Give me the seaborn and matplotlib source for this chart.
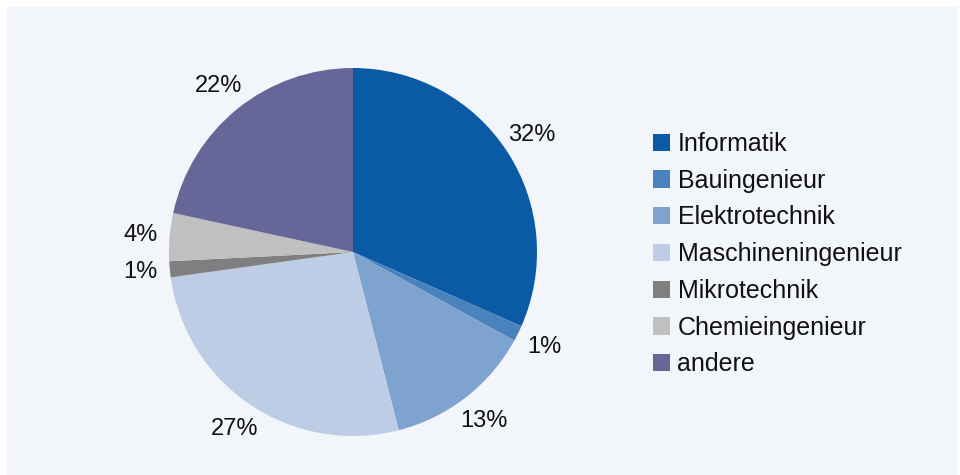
import matplotlib
matplotlib.use("Agg")
import matplotlib.pyplot as plt
import matplotlib.patches as mpatches
import seaborn as sns

# data
faecher = ["Informatik", "Bauingenieur", "Elektrotechnik", "Maschineningenieur",
           "Mikrotechnik", "Chemieingenieur", "andere"]
anteile = [31.6, 1.4, 13.0, 26.8, 1.4, 4.2, 21.6]
farben = ["#0a5aa5", "#4a82be", "#7fa3cf", "#bccde5", "#7f7f7f", "#c0c0c0", "#666699"]

sns.set_style("white")
plt.rcParams["font.family"] = ["Liberation Sans", "DejaVu Sans"]

W, H = 960, 475
fig = plt.figure(figsize=(W / 100, H / 100), dpi=100)
fig.patch.set_facecolor("white")

# light panel behind everything
panel = mpatches.Rectangle((7 / W, 0), (W - 9) / W, (H - 7) / H,
                           transform=fig.transFigure, facecolor="#f2f5fa",
                           edgecolor="none", zorder=-10)
fig.patches.append(panel)

# pie: centre (353, 252), radius 184 px
cx, cy, r = 353, 252, 184
ax = fig.add_axes([(cx - r) / W, (H - cy - r) / H, 2 * r / W, 2 * r / H])
ax.set_zorder(2)
ax.set_facecolor("none")

wedges, _, autotexts = ax.pie(anteile, colors=farben, startangle=90, counterclock=False,
                              autopct=lambda p: f"{p:.0f}%", pctdistance=1.16,
                              radius=1.0, wedgeprops=dict(linewidth=0))
for t in autotexts:
    t.set_fontsize(17)
    t.set_color("#111111")
ax.set_xlim(-1, 1)
ax.set_ylim(-1, 1)
ax.set_aspect("equal")
ax.axis("off")

handles = [mpatches.Patch(facecolor=c, edgecolor="none", label=l) for c, l in zip(farben, faecher)]
leg = fig.legend(handles=handles, loc="upper left", bbox_to_anchor=(653 / W, 1 - 132 / H),
                 frameon=False, fontsize=18, handlelength=0.68, handleheight=0.68,
                 handletextpad=0.3, labelspacing=0.51, borderpad=0, borderaxespad=0)
for t in leg.get_texts():
    t.set_color("#111111")

fig.savefig("out.png", dpi=100, facecolor=fig.get_facecolor())
